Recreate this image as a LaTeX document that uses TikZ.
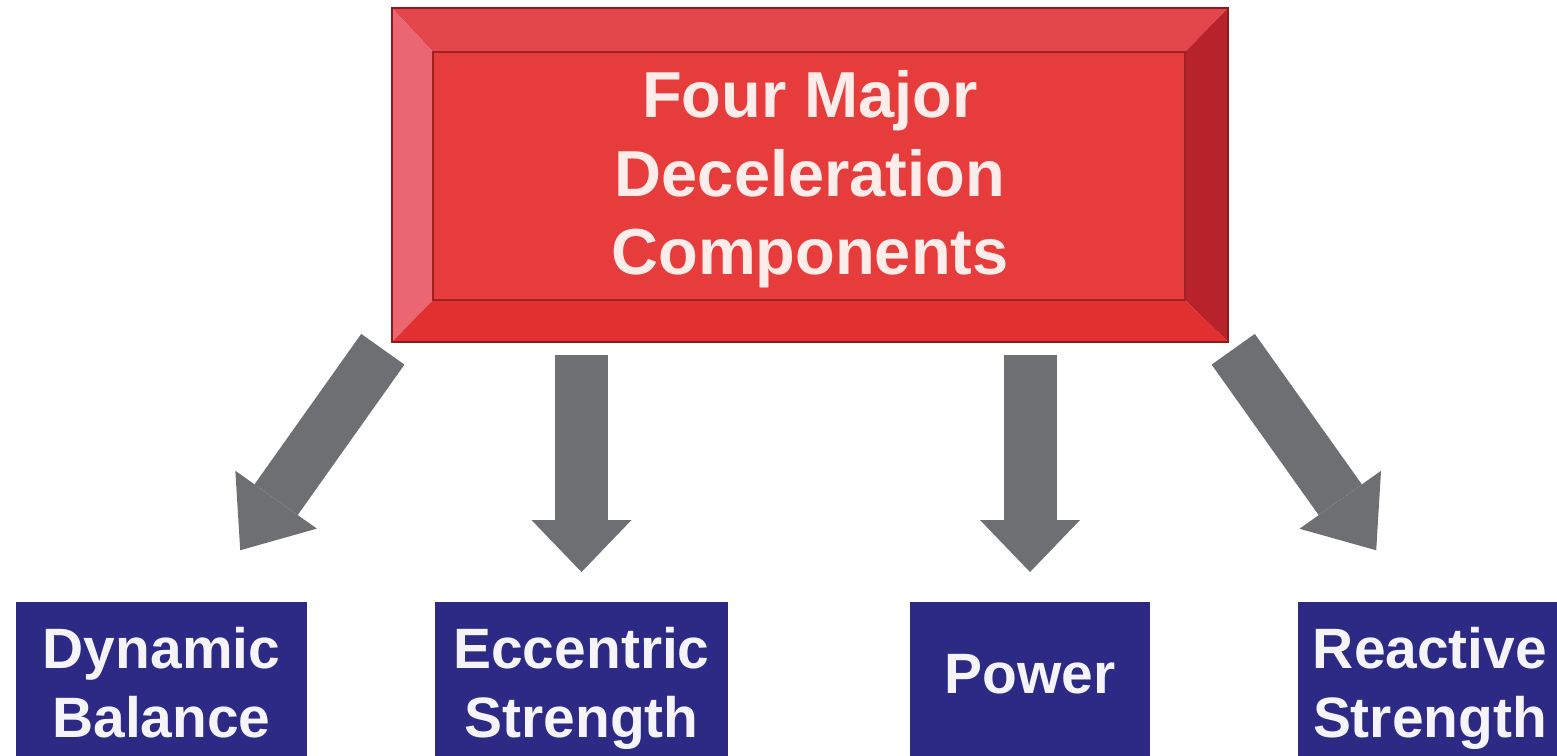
\documentclass[tikz,border=0pt]{standalone}
\usepackage{fontspec}
\setmainfont{Liberation Sans}
\usetikzlibrary{arrows.meta,calc}

\definecolor{bevelface}{HTML}{E63C3B}
\definecolor{beveltop}{HTML}{E4474B}
\definecolor{bevelleft}{HTML}{EA6670}
\definecolor{bevelright}{HTML}{B8222A}
\definecolor{bevelbottom}{HTML}{E1302F}
\definecolor{bevelline}{HTML}{8E1A1C}
\definecolor{navybox}{HTML}{2D2A86}
\definecolor{arrowgray}{HTML}{6E6F73}
\definecolor{titletext}{HTML}{FCEDEA}

\newcommand{\titlestrut}{\rule[-0.36cm]{0pt}{1.56cm}}
\newcommand{\powerstrut}{\rule[-0.604cm]{0pt}{1.38cm}}

\begin{document}
\begin{tikzpicture}[x=0.02cm,y=-0.02cm,
    blockbox/.style={anchor=north, fill=navybox, text=white!95!navybox, inner sep=0pt,
        minimum height=3.468cm, align=center, font=\fontsize{32.4}{39.3}\selectfont\bfseries},
    bigarrow/.style={draw=arrowgray, line width=1.06cm,
        -{Triangle[width=2cm,length=#1,line width=0pt]}}]
    \useasboundingbox (0,0) rectangle (1557,755);

    % Draw bevelled frame
    \fill[bevelface] (433,52) rectangle (1185,300);
    \fill[beveltop] (392,8) -- (1228,8) -- (1185,52) -- (433,52) -- cycle;
    \fill[bevelleft] (392,8) -- (433,52) -- (433,300) -- (392,342) -- cycle;
    \fill[bevelright] (1228,8) -- (1228,342) -- (1185,300) -- (1185,52) -- cycle;
    \fill[bevelbottom] (392,342) -- (433,300) -- (1185,300) -- (1228,342) -- cycle;
    \draw[bevelline, line width=0.04cm] (392,8) rectangle (1228,342);
    \draw[bevelline!80!bevelface, line width=0.04cm] (433,52) rectangle (1185,300);

    % Label values
    \node (top) [minimum width=16.72cm, minimum height=6.68cm, inner sep=0pt, align=center,
        text=titletext, font=\fontsize{37}{44.4}\selectfont\bfseries] at (810,175)
        {\titlestrut Four Major\\\titlestrut Deceleration\\\titlestrut Components};
    \node (dyn) [blockbox, minimum width=5.82cm] at (161.5,602) {\strut Dynamic\\\strut Balance};
    \node (ecc) [blockbox, minimum width=5.88cm] at (581.5,602) {\strut Eccentric\\\strut Strength};
    \node (pow) [blockbox, minimum width=4.8cm] at (1030,602) {\powerstrut Power};
    \node (rea) [blockbox, minimum width=5.28cm] at (1430,602) {\strut Reactive\\\strut Strength};

    % Draw arrows
    \draw[bigarrow=1.24cm, shorten <=0.17cm, shorten >=1.27cm] ($(top.south west)+(-4,0)$) -- ($(dyn.north)+(42,0)$);
    \draw[bigarrow=1.04cm, shorten <=0.26cm, shorten >=0.6cm] (top.south -| ecc.north) -- (ecc.north);
    \draw[bigarrow=1.04cm, shorten <=0.26cm, shorten >=0.6cm] (top.south -| pow.north) -- (pow.north);
    \draw[bigarrow=1.24cm, shorten <=0.17cm, shorten >=1.27cm] (top.south east) -- ($(rea.north)+(-17,0)$);
\end{tikzpicture}
\end{document}
